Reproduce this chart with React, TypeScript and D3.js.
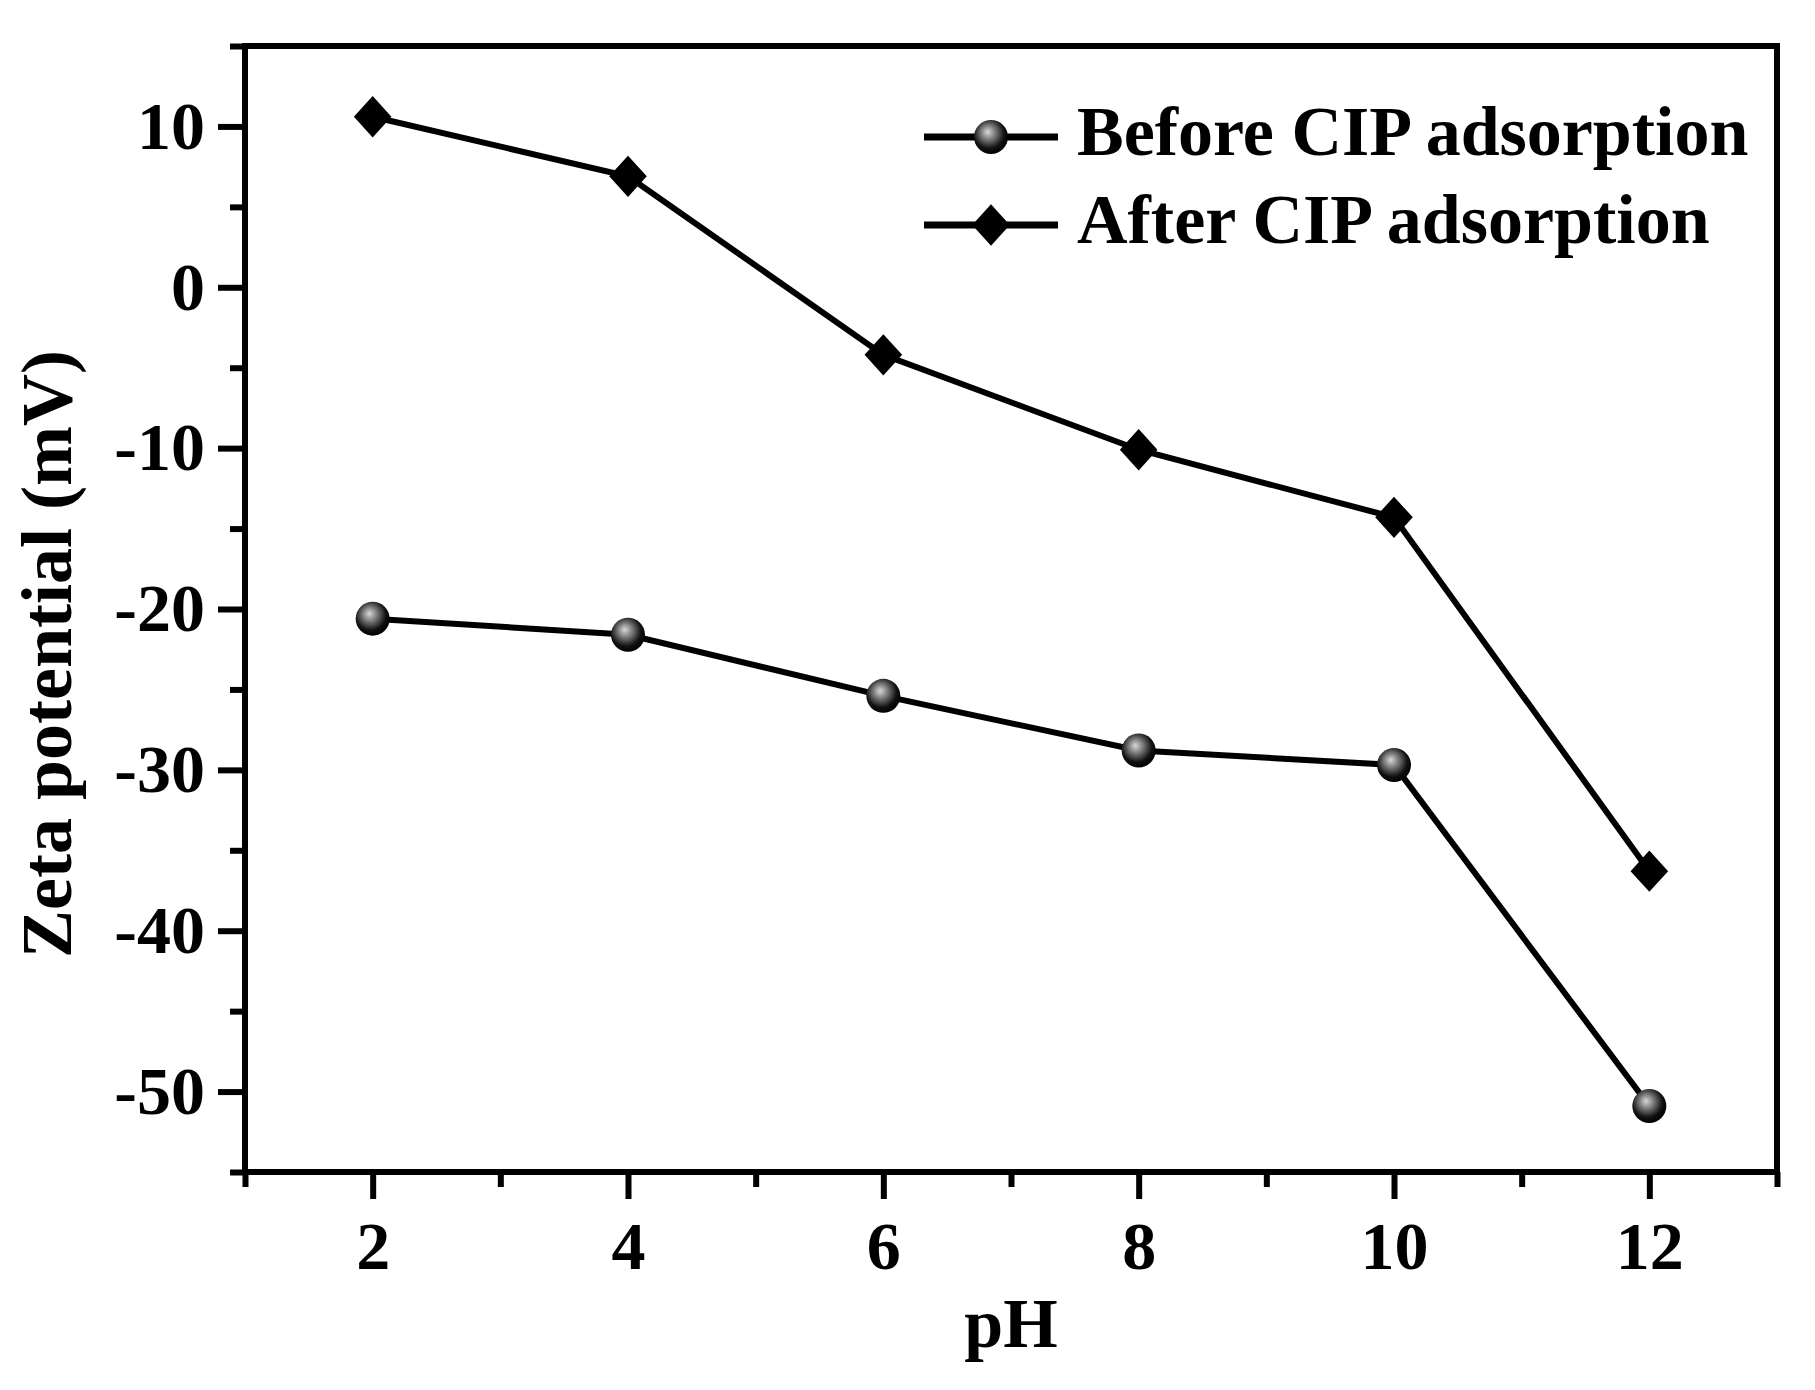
import React, { useEffect, useRef } from "react";
import * as d3 from "d3";

const phValues: number[] = [2, 4, 6, 8, 10, 12];
const beforeCIP: number[] = [-20.6, -21.6, -25.4, -28.8, -29.7, -50.9];
const afterCIP: number[] = [10.6, 6.9, -4.2, -10.1, -14.3, -36.3];
const seriesNames: string[] = ["Before CIP adsorption", "After CIP adsorption"];
const xMajorTicks: number[] = [2, 4, 6, 8, 10, 12];
const xMinorTicks: number[] = [1, 3, 5, 7, 9, 11, 13];
const yMajorTicks: number[] = [-50, -40, -30, -20, -10, 0, 10];
const yMinorTicks: number[] = [-55, -45, -35, -25, -15, -5, 5, 15];

const FONT = "'Liberation Serif', 'Times New Roman', serif";

const App: React.FC = () => {
  const svgRef = useRef<SVGSVGElement | null>(null);

  useEffect(() => {
    if (!svgRef.current) return;

    const width = 1815;
    const height = 1390;
    const margin = { top: 46, right: 38, bottom: 218, left: 245 };
    const innerW = width - margin.left - margin.right;
    const innerH = height - margin.top - margin.bottom;

    d3.select(svgRef.current).selectAll("*").remove();

    const root = d3
      .select(svgRef.current)
      .attr("width", width)
      .attr("height", height);

    // shiny ball fill for the circle markers
    const grad = root
      .append("defs")
      .append("radialGradient")
      .attr("id", "ball")
      .attr("cx", "0.45")
      .attr("cy", "0.4")
      .attr("r", "0.6")
      .attr("fx", "0.4")
      .attr("fy", "0.35");
    grad.append("stop").attr("offset", "0%").attr("stop-color", "#d8d8d8");
    grad.append("stop").attr("offset", "30%").attr("stop-color", "#888");
    grad.append("stop").attr("offset", "75%").attr("stop-color", "#111");
    grad.append("stop").attr("offset", "100%").attr("stop-color", "#000");

    const svg = root
      .append("g")
      .attr("transform", `translate(${margin.left}, ${margin.top})`);

    const x = d3.scaleLinear().domain([1, 13]).range([0, innerW]);
    const y = d3.scaleLinear().domain([-55, 15]).range([innerH, 0]);

    const fmt = (d: d3.NumberValue) => String(d).replace("\u2212", "-");

    const styleAxis = (g: d3.Selection<SVGGElement, unknown, null, undefined>) => {
      g.select(".domain").remove();
      g.selectAll(".tick line").attr("stroke", "#000").attr("stroke-width", 6);
      g.selectAll(".tick text")
        .attr("font-family", FONT)
        .attr("font-weight", "bold")
        .attr("font-size", 68)
        .attr("fill", "#000");
    };

    // X axis
    svg.append("g")
      .attr("transform", `translate(0, ${innerH})`)
      .call(d3.axisBottom(x).tickValues(xMinorTicks).tickSize(15).tickFormat(() => ""))
      .call(styleAxis);
    svg.append("g")
      .attr("transform", `translate(0, ${innerH})`)
      .call(d3.axisBottom(x).tickValues(xMajorTicks).tickSize(27).tickPadding(22).tickFormat(fmt))
      .call(styleAxis);

    // Y axis
    svg.append("g")
      .call(d3.axisLeft(y).tickValues(yMinorTicks).tickSize(15).tickFormat(() => ""))
      .call(styleAxis);
    svg.append("g")
      .call(d3.axisLeft(y).tickValues(yMajorTicks).tickSize(27).tickPadding(13).tickFormat(fmt))
      .call(styleAxis);

    // Frame
    svg.append("rect")
      .attr("x", 0)
      .attr("y", 0)
      .attr("width", innerW)
      .attr("height", innerH)
      .attr("fill", "none")
      .attr("stroke", "#000")
      .attr("stroke-width", 6);

    const line = d3
      .line<number>()
      .x((_, i) => x(phValues[i]))
      .y((d) => y(d));

    const diamond = d3.symbol().type(d3.symbolDiamond2).size(900);

    // Before series
    svg.append("path")
      .datum(beforeCIP)
      .attr("d", line)
      .attr("fill", "none")
      .attr("stroke", "#000")
      .attr("stroke-width", 6);
    svg.selectAll(".before-pt")
      .data(beforeCIP)
      .enter()
      .append("circle")
      .attr("class", "before-pt")
      .attr("cx", (_, i) => x(phValues[i]))
      .attr("cy", (d) => y(d))
      .attr("r", 17)
      .attr("fill", "url(#ball)");

    // After series
    svg.append("path")
      .datum(afterCIP)
      .attr("d", line)
      .attr("fill", "none")
      .attr("stroke", "#000")
      .attr("stroke-width", 6);
    svg.selectAll(".after-pt")
      .data(afterCIP)
      .enter()
      .append("path")
      .attr("class", "after-pt")
      .attr("transform", (d, i) => `translate(${x(phValues[i])}, ${y(d)}) scale(1, 1.1)`)
      .attr("d", diamond)
      .attr("fill", "#000");

    // Legend
    const legend = root.append("g").attr("transform", "translate(924, 137)");
    seriesNames.forEach((name, i) => {
      const row = legend.append("g").attr("transform", `translate(0, ${i * 88})`);
      row.append("line")
        .attr("x1", 0)
        .attr("x2", 134)
        .attr("y1", 0)
        .attr("y2", 0)
        .attr("stroke", "#000")
        .attr("stroke-width", 7);
      if (i === 0) {
        row.append("circle").attr("cx", 67).attr("cy", 0).attr("r", 17).attr("fill", "url(#ball)");
      } else {
        row.append("path")
          .attr("transform", "translate(67, 0) scale(1, 1.1)")
          .attr("d", diamond)
          .attr("fill", "#000");
      }
      row.append("text")
        .attr("x", 153)
        .attr("y", 18)
        .attr("font-family", FONT)
        .attr("font-weight", "bold")
        .attr("font-size", 70)
        .text(name);
    });

    // Axis titles
    root.append("text")
      .attr("x", margin.left + innerW / 2)
      .attr("y", 1347)
      .attr("text-anchor", "middle")
      .attr("font-family", FONT)
      .attr("font-weight", "bold")
      .attr("font-size", 70)
      .text("pH");

    root.append("text")
      .attr("transform", "translate(71, 654) rotate(-90)")
      .attr("text-anchor", "middle")
      .attr("font-family", FONT)
      .attr("font-weight", "bold")
      .attr("font-size", 72)
      .text("Zeta potential (mV)");
  }, []);

  return (
    <svg
      ref={svgRef}
      style={{ position: "absolute", left: 0, top: 0, background: "#fff" }}
    ></svg>
  );
};

export default App;
